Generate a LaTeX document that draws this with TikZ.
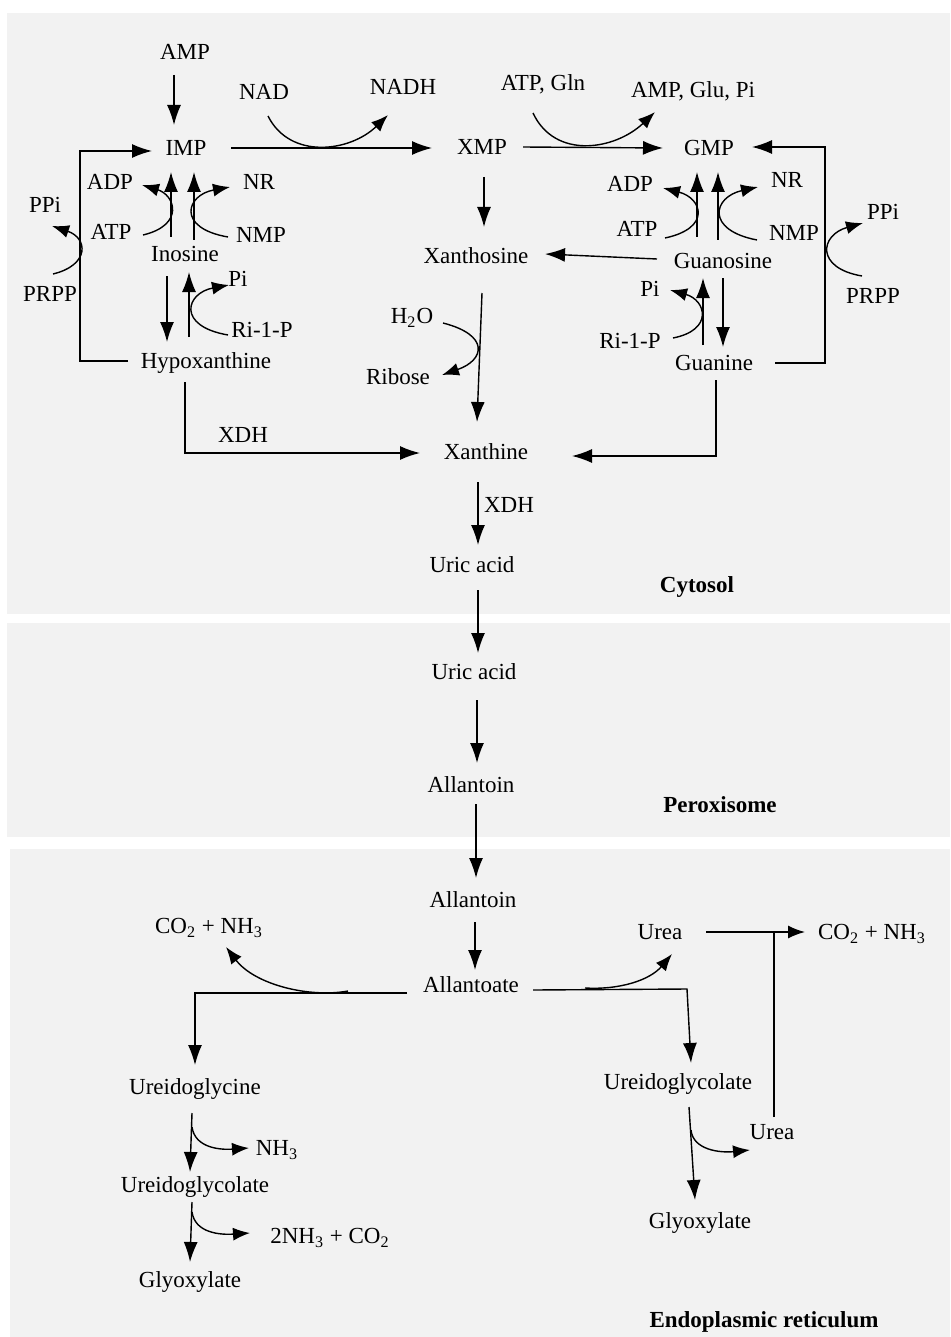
\documentclass[tikz,border=0pt]{standalone}
\usepackage{fontspec}
\setmainfont{Liberation Serif}
\usetikzlibrary{arrows.meta,calc}
\definecolor{panel}{HTML}{F2F2F2}
\begin{document}
\begin{tikzpicture}[x=0.5pt,y=-0.5pt,
  lbl/.style={inner sep=0pt, text height=7.6pt, text depth=0pt, font=\fontsize{11.5}{13}\selectfont},
  comp/.style={lbl, font=\fontsize{11.5}{13}\selectfont\bfseries},
  ln/.style={line width=0.7pt, draw=black},
  arr/.style={ln, -{Latex[length=10pt,width=7pt]}},
  sarr/.style={ln, -{Latex[length=8.5pt,width=6.5pt]}}]
\useasboundingbox (0,0) rectangle (950,1337);
\fill[panel] (7,13) rectangle (950,614);
\fill[panel] (7,623) rectangle (950,837);
\fill[panel] (10,849) rectangle (950,1337);

% ---------- nodes ----------
\node[lbl] (amp) at (185,52) {AMP};
\node[lbl] (nad) at (264,92) {NAD};
\node[lbl] (nadh) at (403,87) {NADH};
\node[lbl] (atpgln) at (543,83) {ATP, Gln};
\node[lbl] (ampglu) at (693,90) {AMP, Glu, Pi};
\node[lbl] (imp) at (186,148) {IMP};
\node[lbl] (xmp) at (482,147) {XMP};
\node[lbl] (gmp) at (709,148) {GMP};
\node[lbl] (adpL) at (110,182) {ADP};
\node[lbl] (nrL) at (259,182) {NR};
\node[lbl] (ppiL) at (45,205) {PPi};
\node[lbl] (atpL) at (111,232) {ATP};
\node[lbl] (nmpL) at (261,235) {NMP};
\node[lbl] (inosine) at (185,254) {Inosine};
\node[lbl] (piL) at (238,279) {Pi};
\node[lbl] (prppL) at (50,294) {PRPP};
\node[lbl] (ri1pL) at (262,330) {Ri-1-P};
\node[lbl] (hypox) at (206,361) {Hypoxanthine};
\node[lbl] (xdh1) at (243,435) {XDH};
\node[lbl] (xanthosine) at (476,256) {Xanthosine};
\node[lbl] (h2o) at (412,316) {H\textsubscript{2}O};
\node[lbl] (ribose) at (398,377) {Ribose};
\node[lbl] (xanthine) at (486,452) {Xanthine};
\node[lbl] (adpR) at (630,184) {ADP};
\node[lbl] (nrR) at (787,180) {NR};
\node[lbl] (atpR) at (637,229) {ATP};
\node[lbl] (nmpR) at (794,233) {NMP};
\node[lbl] (guanosine) at (723,261) {Guanosine};
\node[lbl] (ppiR) at (883,212) {PPi};
\node[lbl] (piR) at (650,289) {Pi};
\node[lbl] (prppR) at (873,296) {PRPP};
\node[lbl] (ri1pR) at (630,341) {Ri-1-P};
\node[lbl] (guanine) at (714,363) {Guanine};
\node[lbl] (xdh2) at (509,505) {XDH};
\node[lbl] (uric1) at (472,565) {Uric acid};
\node[comp] (cytosol) at (697,585) {Cytosol};
\node[lbl] (uric2) at (474,672) {Uric acid};
\node[lbl] (allantoin1) at (471,785) {Allantoin};
\node[comp] (peroxisome) at (720,805) {Peroxisome};
\node[lbl] (allantoin2) at (473,900) {Allantoin};
\node[lbl] (co2L) at (209,926) {CO\textsubscript{2} + NH\textsubscript{3}};
\node[lbl] (allantoate) at (471,985) {Allantoate};
\node[lbl] (ureaT) at (660,932) {Urea};
\node[lbl] (co2R) at (872,932) {CO\textsubscript{2} + NH\textsubscript{3}};
\node[lbl] (ureidoglycine) at (195,1087) {Ureidoglycine};
\node[lbl] (nh3) at (277,1148) {NH\textsubscript{3}};
\node[lbl] (ureidoglycolateL) at (195,1185) {Ureidoglycolate};
\node[lbl] (nh3co2) at (330,1236) {2NH\textsubscript{3} + CO\textsubscript{2}};
\node[lbl] (glyoxL) at (190,1280) {Glyoxylate};
\node[lbl] (ureidoglycolateR) at (678,1082) {Ureidoglycolate};
\node[lbl] (ureaL) at (772,1132) {Urea};
\node[lbl] (glyoxR) at (700,1221) {Glyoxylate};
\node[comp] (er) at (764,1320) {Endoplasmic reticulum};

% ---------- top-left ----------
\draw[arr] ($(amp)+(-11,23)$) -- ($(imp)+(-12,-23)$);
\draw[arr] ($(imp)+(45,0)$) -- ($(xmp)+(-50,1)$);
\draw[sarr] ($(nad)+(4,24)$) .. controls (290,160) and (350,152) .. ($(nadh)+(-15,28)$);
\draw[arr] ($(inosine)+(-14,-17)$) -- ($(imp)+(-15,24)$);
\draw[arr] ($(inosine)+(9,-14)$) -- ($(imp)+(8,24)$);
\draw[sarr] ($(atpL)+(32,3)$) .. controls (185,225) and (175,195) .. ($(adpL)+(32,3)$);
\draw[sarr] ($(nmpL)+(-33,2)$) .. controls (176,228) and (186,195) .. ($(nrL)+(-29,5)$);
\draw[sarr] ($(prppL)+(3,-20)$) .. controls (90,265) and (88,238) .. ($(ppiL)+(7,21)$);
\draw[arr] ($(hypox)+(-78,0)$) -- ++(-48,0) |- ($(imp)+(-34,3)$);
\draw[arr] ($(inosine)+(-18,22)$) -- ($(hypox)+(-39,-19)$);
\draw[arr] ($(hypox)+(-17,-24)$) -- ($(inosine)+(4,18)$);
\draw[sarr] ($(ri1pL)+(-34,5)$) .. controls (176,326) and (186,293) .. ($(piL)+(-9,6)$);
\draw[arr] ($(hypox)+(-21,21)$) |- ($(xanthine)+(-66,1)$);

% ---------- top-middle ----------
\draw[arr] ($(xmp)+(41,0)$) -- ($(gmp)+(-46,0)$);
\draw[sarr] ($(atpgln)+(-10,30)$) .. controls (555,160) and (615,150) .. ($(ampglu)+(-38,22)$);
\draw[arr] ($(xmp)+(2,30)$) -- ($(xanthosine)+(8,-29)$);
\draw[arr] ($(guanosine)+(-66,-2)$) -- ($(xanthosine)+(69,-2)$);
\draw[arr] ($(xanthosine)+(6,37)$) -- ($(xanthine)+(-9,-30)$);
\draw[sarr] ($(h2o)+(31,7)$) .. controls (490,335) and (485,360) .. ($(ribose)+(44,-2)$);

% ---------- top-right ----------
\draw[arr] ($(guanosine)+(-26,-24)$) -- ($(gmp)+(-12,24)$);
\draw[arr] ($(guanosine)+(-5,-21)$) -- ($(gmp)+(9,24)$);
\draw[sarr] ($(atpR)+(28,9)$) .. controls (712,228) and (702,198) .. ($(adpR)+(33,4)$);
\draw[sarr] ($(nmpR)+(-37,7)$) .. controls (705,230) and (713,197) .. ($(nrR)+(-29,7)$);
\draw[arr] ($(guanine)+(61,0)$) -- ++(50,0) |- ($(gmp)+(43,-1)$);
\draw[sarr] ($(prppR)+(-11,-20)$) .. controls (815,268) and (820,235) .. ($(ppiR)+(-20,11)$);
\draw[arr] ($(guanosine)+(0,17)$) -- ($(guanine)+(9,-16)$);
\draw[arr] ($(guanine)+(-11,-18)$) -- ($(guanosine)+(-20,17)$);
\draw[sarr] ($(ri1pR)+(43,-3)$) .. controls (714,330) and (706,300) .. ($(piR)+(20,1)$);
\draw[arr] ($(guanine)+(2,17)$) |- ($(xanthine)+(86,4)$);

% ---------- main column ----------
\draw[arr] ($(xanthine)+(-8,30)$) -- ($(uric1)+(6,-20)$);
\draw[arr] ($(uric1)+(6,25)$) -- ($(uric2)+(4,-19)$);
\draw[arr] ($(uric2)+(3,28)$) -- ($(allantoin1)+(6,-22)$);
\draw[arr] ($(allantoin1)+(5,19)$) -- ($(allantoin2)+(3,-22)$);
\draw[arr] ($(allantoin2)+(2,22)$) -- ($(allantoate)+(4,-15)$);

% ---------- bottom ----------
\draw[arr] ($(allantoate)+(-64,8)$) -| ($(ureidoglycine)+(0,-22)$);
\draw[sarr] ($(allantoate)+(-123,6)$) .. controls (310,998) and (255,985) .. ($(co2L)+(17,21)$);
\draw[arr] ($(allantoate)+(62,5)$) -- ++(154,-1) -- ($(ureidoglycolateR)+(13,-19)$);
\draw[sarr] ($(allantoate)+(114,3)$) .. controls (620,990) and (650,980) .. ($(ureaT)+(12,22)$);
\coordinate (join) at ($(ureaL)+(2,-200)$);
\draw[sarr] ($(ureaT)+(46,0)$) -- ($(co2R)+(-67,0)$);
\draw[ln] ($(ureaL)+(2,-15)$) -- (join);
\draw[arr] ($(ureidoglycolateR)+(11,25)$) -- ($(glyoxR)+(-5,-21)$);
\draw[sarr] ($(ureidoglycolateR)+(13,48)$) .. controls (693,1150) and (720,1153) .. ($(ureaL)+(-22,18)$);
\draw[arr] ($(ureidoglycine)+(-3,26)$) -- ($(ureidoglycolateL)+(-5,-13)$);
\draw[sarr] ($(ureidoglycine)+(-3,40)$) .. controls (195,1148) and (220,1150) .. ($(nh3)+(-28,0)$);
\draw[arr] ($(ureidoglycolateL)+(-3,17)$) -- ($(glyoxL)+(0,-18)$);
\draw[sarr] ($(ureidoglycolateL)+(-3,27)$) .. controls (195,1233) and (220,1235) .. ($(nh3co2)+(-80,-3)$);
\end{tikzpicture}
\end{document}
